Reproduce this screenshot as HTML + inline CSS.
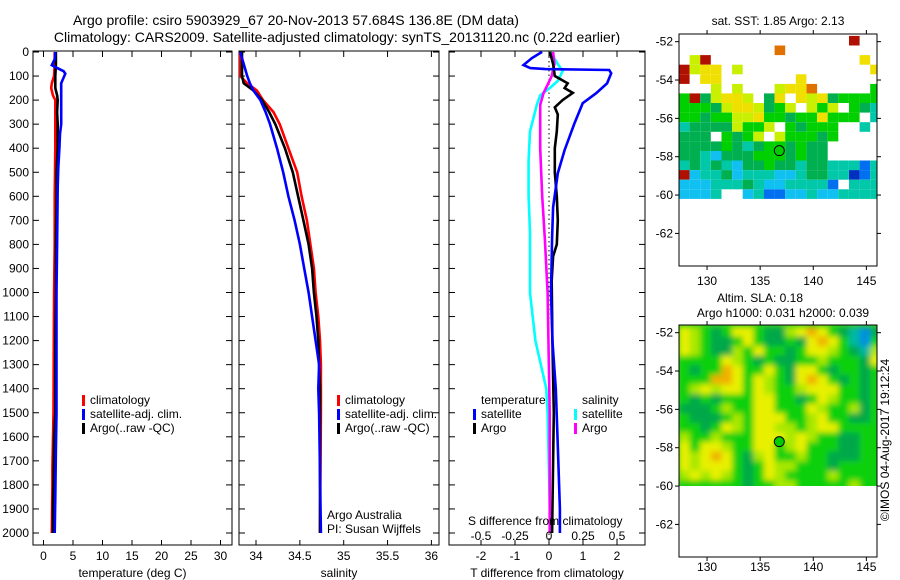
<!DOCTYPE html>
<html><head><meta charset="utf-8"><style>
html,body{margin:0;padding:0;background:#fff;}
svg{display:block;font-family:"Liberation Sans",sans-serif;}
</style></head><body>
<svg id="fig" width="900" height="580" viewBox="0 0 900 580" xmlns="http://www.w3.org/2000/svg">
<defs>
<clipPath id="m1clip"><rect x="679" y="34" width="198" height="232"/></clipPath>
<clipPath id="m2clip"><rect x="679" y="325" width="198" height="161"/></clipPath>
<filter id="blur"><feGaussianBlur stdDeviation="3"/></filter>
</defs>
<g font-size="14" fill="#000">
<text x="296" y="25" text-anchor="middle">Argo profile: csiro 5903929_67 20-Nov-2013 57.684S 136.8E (DM data)</text>
<text x="337" y="42" text-anchor="middle">Climatology: CARS2009. Satellite-adjusted climatology: synTS_20131120.nc (0.22d earlier)</text>
<text x="778" y="25" text-anchor="middle" font-size="12">sat. SST: 1.85 Argo: 2.13</text>
<text x="760" y="302" text-anchor="middle" font-size="12">Altim. SLA: 0.18</text>
<text x="783" y="317" text-anchor="middle" font-size="12">Argo h1000: 0.031 h2000: 0.039</text>
<text transform="translate(889,440) rotate(-90)" text-anchor="middle" font-size="12">©IMOS 04-Aug-2017 19:12:24</text>
</g>
<g id="plots"></g>
</svg>
<script>
// depth axis
const depthTicks=[0,100,200,300,400,500,600,700,800,900,1000,1100,1200,1300,1400,1500,1600,1700,1800,1900,2000];
// panel 1: temperature
const tTicks=[0,5,10,15,20,25,30];
const tDepth=[0,50,100,130,150,180,200,250,300,400,500,600,800,1000,1200,1500,1730,1800,2000];
const tClim=[1.9,1.9,1.8,1.4,1.3,1.6,2.0,2.0,2.0,2.0,1.95,1.9,1.9,1.8,1.75,1.7,1.5,1.5,1.4];
const tArgoDepth=[0,50,100,150,180,200,250,300,400,500,600,800,1000,1200,1500,1600,1800,1900,2000];
const tArgo=[2.1,2.1,2.0,2.0,2.3,2.4,2.3,2.4,2.4,2.2,2.2,2.1,2.1,2.0,2.0,1.8,1.7,1.6,1.6];
const tSatDepth=[0,30,55,70,80,90,130,200,300,340,400,480,560,800,1000,1200,1500,1650,1850,2000];
const tSat=[2.0,1.9,1.4,2.6,3.4,3.7,3.0,3.0,3.0,2.8,2.7,2.5,2.4,2.3,2.2,2.2,2.2,2.1,2.0,1.9];
// panel 2: salinity
const sTicks=[34,34.5,35,35.5,36];
const sTickLabels=["34","34.5","35","35.5","36"];
const sDepth=[0,100,130,160,200,250,300,400,500,600,700,800,900,1000,1100,1200,1300,1400,1500,2000];
const sClim=[33.82,33.82,33.9,34.01,34.08,34.2,34.27,34.37,34.47,34.52,34.58,34.62,34.66,34.68,34.71,34.73,34.74,34.74,34.74,34.73];
const sArgo=[33.84,33.84,33.86,33.97,34.07,34.15,34.22,34.33,34.42,34.48,34.54,34.6,34.64,34.66,34.69,34.71,34.72,34.73,34.73,34.73];
const sSat=[33.82,33.9,33.93,33.97,34.05,34.11,34.16,34.24,34.31,34.37,34.44,34.5,34.55,34.6,34.64,34.68,34.72,34.71,34.72,34.74];
// panel 3: differences
const dTicks=[-2,-1,0,1,2];
const dsTicks=[-0.5,-0.25,0,0.25,0.5];
const dsTickLabels=["-0.5","-0.25","0","0.25","0.5"];
const dTDepth=[0,4,25,54,67,71,75,88,130,171,213,296,408,504,646,771,1000,1200,1400,1600,1900,2000];
const dTSat=[-0.2,-0.26,-0.5,-0.75,-0.55,-0.1,1.77,1.83,1.71,1.39,0.99,0.75,0.46,0.26,0.12,0.09,0.06,0.1,0.2,0.25,0.32,0.32];
const dTArgoDepth=[0,50,100,130,150,170,200,230,260,330,400,500,600,700,800,850,950,1200,1500,2000];
const dTArgo=[0.03,0.12,0.17,0.55,0.46,0.7,0.4,0.17,0.26,0.23,0.17,0.17,0.23,0.26,0.23,0.12,0.08,0.1,0.14,0.09];
const dSDepth=[0,50,80,120,150,180,220,330,450,600,750,1000,1200,1400,1500,2000];
const dSSat=[0.01,0.065,0.1,0.065,0.005,-0.065,-0.09,-0.14,-0.15,-0.15,-0.14,-0.14,-0.1,-0.02,-0.01,0.01];
const dSArgoDepth=[0,50,100,130,170,220,400,600,780,1000,1500,2000];
const dSArgo=[0.03,0.04,0.02,-0.005,-0.04,-0.065,-0.065,-0.05,-0.03,-0.01,0.005,0.005];
// maps
const lonTicks=[130,135,140,145];
const latTicks=[-52,-54,-56,-58,-60,-62];
const sstRows=[
"................r..",
".........o.........",
".lr..............y.",
"rlyy.l............y",
"r.yy.......y.......",
"...l.l...lyyo.....g",
"grGlyyl.Gy.ylyGgggg",
"gggGlyylGgl.lgl.gGt",
"ggGggllyggGggyggg.t",
"tGGGGlggl.gGggg..t.",
"GGG.gGgl.lgggGg....",
"GGGGgGtGggGgGG.....",
"GGtcGGGgggGgGG.....",
"tGtGtcGGgGGtGGtttbt",
"rcttGctttcctGGttnbt",
"ccctttGtccttttb.ttt",
"ccct..ctbbcctcctttt"];
const slaRows=[
"YlgGgYYgGGlYoYgGcbG",
"YlgGGgYgGGgGYoYgcbg",
"YlgGGlgYggGgYYlgGcl",
"ggggYlgGgGGgglgggGY",
"gGggoYggYgGYYgGggGg",
"gggooYgYlgGYoYgGgGg",
"glYlYYgYlgglYYYggGg",
"gGgGgggYYggGgYlggGg",
"GGGglggYYgggYlgglGg",
"gGGGglgYYYgglYggGGg",
"ggGgYlgYYllglYYgggg",
"lgglgggYYYlYlggGGgg",
"YgYYlggYYglYgggGGgg",
"YlYoYgGlYgglggGGGgg",
"YlYYYgGgYllgggGgggg",
"lYlYlgGgYlgggglgggg",
"ggggggGggllggggglgg"];
const argoLon=136.8, argoLat=-57.684;

const NS="http://www.w3.org/2000/svg";
const root=document.getElementById('plots');
function mk(tag,attrs,parent){const e=document.createElementNS(NS,tag);for(const k in attrs)e.setAttribute(k,attrs[k]);(parent||root).appendChild(e);return e;}
const Y0=52,Y1=545;
const yD=d=>Y0+d*0.2405;
const xT=v=>43.5+v*5.9;
const xS=v=>256+(v-34)*87.7;
const xD=v=>549+v*34;
const xDS=v=>549+v*136;

function panel(name,x0,x1,ticks,labels,xf,title){
  const g=mk('g',{});
  
  
  const r=mk('rect',{x:x0,y:Y0-1,width:x1-x0,height:Y1-Y0+1,fill:'none',stroke:'#000','stroke-width':1},g);
  
  
  depthTicks.forEach(d=>{
    mk('line',{x1:x0,x2:x0+6,y1:yD(d),y2:yD(d),stroke:'#000'},g);
    mk('line',{x1:x1-6,x2:x1,y1:yD(d),y2:yD(d),stroke:'#000'},g);
  });
  ticks.forEach((t,i)=>{
    const x=xf(t);
    mk('line',{x1:x,x2:x,y1:Y0-1,y2:Y0+5,stroke:'#000'},g);
    mk('line',{x1:x,x2:x,y1:Y1-5,y2:Y1,stroke:'#000'},g);
    const tx=mk('text',{x:x,y:560,'text-anchor':'middle','font-size':12},g);
    tx.textContent=labels[i];
    
    
  });
  const tt=mk('text',{x:(x0+x1)/2,y:577,'text-anchor':'middle','font-size':12},g);
  tt.textContent=title;
  
  
  return g;
}
function line(g,depths,vals,xf,color,name,w){
  const pts=depths.map((d,i)=>xf(vals[i]).toFixed(1)+','+yD(d).toFixed(1)).join(' ');
  const p=mk('polyline',{points:pts,fill:'none',stroke:color,'stroke-width':w||2.6,'stroke-linejoin':'miter'},g);
  
  
}
function legend(g,x,y,color,label){
  const m=mk('rect',{x:x,y:y-9,width:3,height:11,fill:color},g);
  
  
  const t=mk('text',{x:x+8,y:y,'font-size':12},g);
  t.textContent=label;
  
  
}
// y labels
depthTicks.forEach(d=>{
  const t=mk('text',{x:29,y:yD(d)+4,'text-anchor':'end','font-size':12});
  t.textContent=d;
  
  
});
// panel 1
const p1=panel('temperature-panel',33,232,tTicks,tTicks.map(String),xT,'temperature (deg C)');
line(p1,tDepth,tClim,xT,'#ff0000','temp-climatology-line');
line(p1,tArgoDepth,tArgo,xT,'#000000','temp-argo-line');
line(p1,tSatDepth,tSat,xT,'#0000ff','temp-satellite-line');
legend(p1,82,404,'#ff0000','climatology');
legend(p1,82,418,'#0000ff','satellite-adj. clim.');
legend(p1,82,432,'#000000','Argo(..raw -QC)');
// panel 2
const p2=panel('salinity-panel',239,439,sTicks,sTickLabels,xS,'salinity');
line(p2,sDepth,sClim,xS,'#ff0000','sal-climatology-line');
line(p2,sDepth,sArgo,xS,'#000000','sal-argo-line');
line(p2,sDepth,sSat,xS,'#0000ff','sal-satellite-line');
legend(p2,337,404,'#ff0000','climatology');
legend(p2,337,418,'#0000ff','satellite-adj. clim.');
legend(p2,337,432,'#000000','Argo(..raw -QC)');
[['Argo Australia',519],['PI: Susan Wijffels',533]].forEach(a=>{
  const t=mk('text',{x:327,y:a[1],'font-size':12},p2);t.textContent=a[0];
  
  
});
// panel 3
const p3=panel('difference-panel',449,645,dTicks,dTicks.map(String),xD,'T difference from climatology');
const z=mk('line',{x1:xD(0),x2:xD(0),y1:Y0,y2:Y1,stroke:'#000','stroke-dasharray':'1.5,3'},p3);


line(p3,dSDepth,dSSat,xDS,'#00ffff','sdiff-satellite-line');
line(p3,dSArgoDepth,dSArgo,xDS,'#ff00ff','sdiff-argo-line');
line(p3,dTArgoDepth,dTArgo,xD,'#000000','tdiff-argo-line');
line(p3,dTDepth,dTSat,xD,'#0000ff','tdiff-satellite-line');
[['temperature',481,404],['salinity',582,404]].forEach(a=>{
  const t=mk('text',{x:a[1],y:a[2],'font-size':12},p3);t.textContent=a[0];
  
  
});
legend(p3,473,418,'#0000ff','satellite');
legend(p3,473,432,'#000000','Argo');
legend(p3,574,418,'#00ffff','satellite');
legend(p3,574,432,'#ff00ff','Argo');
const st=mk('text',{x:468,y:525,'font-size':12},p3);st.textContent='S difference from climatology';


dsTicks.forEach((v,i)=>{
  const t=mk('text',{x:xDS(v),y:540,'text-anchor':'middle','font-size':12},p3);t.textContent=dsTickLabels[i];
  
  
});
// maps
const LON0=127.36,LON1=146.0,LAT0=-51.6,LAT1=-63.7;
function mapAxes(name,top,bottom,labY){
  const g=mk('g',{});
  
  
  const xL=v=>679+(v-LON0)*(198/(LON1-LON0));
  const yL=v=>top+(LAT0-v)*((bottom-top)/(LAT0-LAT1));
  return {g,xL,yL,top,bottom,labY};
}
function mapFrame(m){
  const r=mk('rect',{x:679,y:m.top,width:198,height:m.bottom-m.top,fill:'none',stroke:'#000'},m.g);
  
  
  lonTicks.forEach(v=>{
    const x=m.xL(v);
    mk('line',{x1:x,x2:x,y1:m.top,y2:m.top-4,stroke:'#000'},m.g);
    mk('line',{x1:x,x2:x,y1:m.bottom,y2:m.bottom+4,stroke:'#000'},m.g);
    const t=mk('text',{x:x,y:m.labY,'text-anchor':'middle','font-size':12},m.g);t.textContent=v;
    
    
  });
  latTicks.forEach(v=>{
    const y=m.yL(v);
    mk('line',{x1:679,x2:675,y1:y,y2:y,stroke:'#000'},m.g);
    mk('line',{x1:877,x2:881,y1:y,y2:y,stroke:'#000'},m.g);
    const t=mk('text',{x:673,y:y+4,'text-anchor':'end','font-size':12},m.g);t.textContent=v;
    
    
  });
  const c=mk('circle',{cx:m.xL(argoLon),cy:m.yL(argoLat),r:5,fill:'#00cc00',stroke:'#000','stroke-width':1},m.g);
  
  
}
function drawGrid(m,rows,colors,clip,filter){
  const cg=mk('g',{'clip-path':'url(#'+clip+')'},m.g);
  const gg=mk('g',filter?{filter:'url(#blur)'}:{},cg);
  
  
  rows.forEach((row,r)=>{
    for(let c=0;c<row.length;c++){
      const ch=row[c]; if(!colors[ch]) continue;
      const lonA=LON0+c, latA=-51.7-0.5*r;
      const x=m.xL(lonA), y=m.yL(latA);
      const w=m.xL(lonA+1)-x+(filter?0.5:0), h=m.yL(latA-0.5)-y+(filter?0.5:0);
      const ext=(filter&&r===rows.length-1)?6:0;
      const rc=mk('rect',{x:x.toFixed(1),y:y.toFixed(1),width:w.toFixed(1),height:(h+ext).toFixed(1),fill:colors[ch]},gg);
      
      
    }
  });
}
const sstColors={r:'#b01000',o:'#e07000',y:'#f0e000',l:'#c8f000',g:'#00d000',G:'#00b050',t:'#00c8a8',c:'#10c0f0',b:'#0070f0',n:'#0030c0'};
const slaColors={Y:'#e8f000',l:'#a8e800',g:'#10d010',G:'#00a848',o:'#f0b000',c:'#00b8a0',b:'#0090e0'};
const m1=mapAxes('sst-map',34,266,285);
drawGrid(m1,sstRows,sstColors,'m1clip',false);
mapFrame(m1);
const m2=mapAxes('sla-map',325,557,571);
const bgc=mk('rect',{x:679,y:325,width:198,height:161,fill:'#40d020','clip-path':'url(#m2clip)'},m2.g);


drawGrid(m2,slaRows,slaColors,'m2clip',true);
mapFrame(m2);
</script>
</body></html>
